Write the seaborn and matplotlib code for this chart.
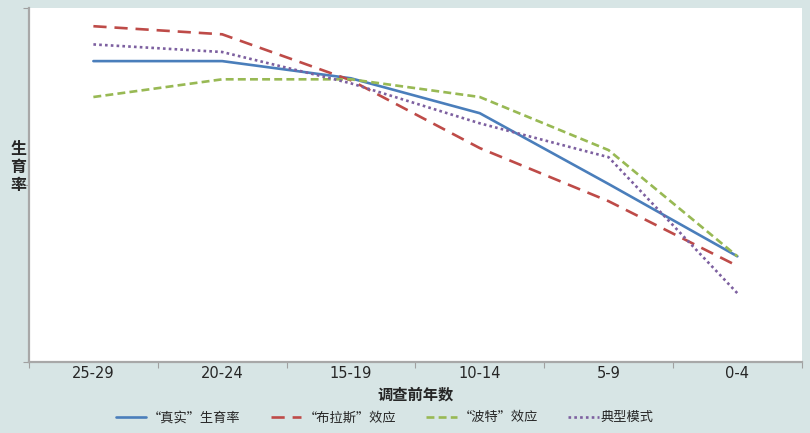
import matplotlib
matplotlib.use("Agg")
import matplotlib.pyplot as plt
import seaborn as sns
import pandas as pd

categories = ["25-29", "20-24", "15-19", "10-14", "5-9", "0-4"]
series_names = ["“真实”生育率", "“布拉斯”效应", "“波特”效应", "典型模式"]
true_rate = [5.95, 5.95, 5.61, 4.92, 3.52, 2.09]
brass = [6.64, 6.48, 5.57, 4.23, 3.18, 1.90]
potter = [5.24, 5.59, 5.59, 5.24, 4.19, 2.09]
typical = [6.28, 6.13, 5.51, 4.72, 4.05, 1.36]
colors = ["#4a7ebb", "#be4b48", "#98b954", "#7d60a0"]
dash_styles = ["", (5, 3), (3, 1.6), (1, 1.2)]

rows = []
for name, vals in zip(series_names, [true_rate, brass, potter, typical]):
    for c, v in zip(categories, vals):
        rows.append({"x": c, "y": v, "series": name})
df = pd.DataFrame(rows)

sns.set_theme(style="white")
plt.rcParams["font.family"] = ["Noto Sans CJK SC", "DejaVu Sans"]
bg = "#d7e5e5"

fig = plt.figure(figsize=(8.1, 4.33), dpi=100, facecolor=bg)
ax = fig.add_axes([0.0358, 0.164, 0.954, 0.8175])
ax.set_facecolor("white")

sns.lineplot(data=df, x="x", y="y", hue="series", style="series",
             hue_order=series_names, style_order=series_names,
             palette=dict(zip(series_names, colors)),
             dashes=dict(zip(series_names, dash_styles)),
             linewidth=1.9, ax=ax, sort=False)

ax.set_xlim(-0.5, 5.5)
ax.set_ylim(0, 7)
ax.set_xticks([i + 0.5 for i in range(-1, 6)], minor=False)
ax.set_xticklabels([])
ax.set_xticks(range(6), minor=True)
ax.set_xticklabels(categories, minor=True,
                   family=["Liberation Sans Narrow", "DejaVu Sans"], fontsize=10.5)
ax.tick_params(axis="x", which="minor", length=0, pad=3)
ax.tick_params(axis="x", which="major", length=4, width=0.8, color="#a0a0a0", direction="out", bottom=True)
ax.set_yticks([0, 3.5, 7])
ax.set_yticklabels([])
ax.tick_params(axis="y", length=4, width=0.8, color="#a0a0a0", direction="out", left=True)

for s in ["top", "right"]:
    ax.spines[s].set_visible(False)
for s in ["left", "bottom"]:
    ax.spines[s].set_color("#a8a8a8")
    ax.spines[s].set_linewidth(1.6)

ax.set_xlabel("调查前年数", fontsize=11, fontweight="bold")
ax.xaxis.set_label_coords(0.5, -0.093)
ax.xaxis.label.set_va("center")
ax.set_ylabel("生\n育\n率", fontsize=11.5, fontweight="bold", rotation=0,
              linespacing=1.15, va="center", ha="center")
ax.yaxis.set_label_coords(-0.014, 0.55)

handles, labels = ax.get_legend_handles_labels()
ax.get_legend().remove()
fig.legend(handles, labels, loc="center", bbox_to_anchor=(0.475, 0.035), ncol=4,
           frameon=False, fontsize=9.5, handlelength=2.3, columnspacing=2.3,
           handletextpad=0.15)

fig.savefig("out.png", dpi=100, facecolor=bg)
